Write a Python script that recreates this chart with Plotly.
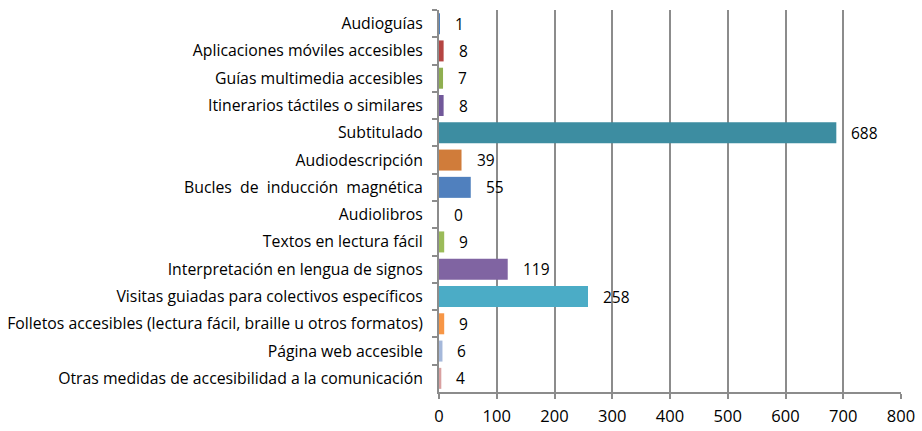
import plotly.graph_objects as go

categories = [
    "Audioguías",
    "Aplicaciones móviles accesibles",
    "Guías multimedia accesibles",
    "Itinerarios táctiles o similares",
    "Subtitulado",
    "Audiodescripción",
    "Bucles  de  inducción  magnética",
    "Audiolibros",
    "Textos en lectura fácil",
    "Interpretación en lengua de signos",
    "Visitas guiadas para colectivos específicos",
    "Folletos accesibles (lectura fácil, braille u otros formatos)",
    "Página web accesible",
    "Otras medidas de accesibilidad a la comunicación",
]
values = [1, 8, 7, 8, 688, 39, 55, 0, 9, 119, 258, 9, 6, 4]
colors = ["#4F81BD", "#B54542", "#8FAF50", "#71589A", "#3D8DA1", "#D07C3A",
          "#5080BE", "#4F81BD", "#9BBB59", "#8064A2", "#4BACC6", "#F79646",
          "#A5B8DA", "#D9A0A0"]
x_ticks = [0, 100, 200, 300, 400, 500, 600, 700, 800]

FONT = "Open Sans"

fig = go.Figure()
fig.add_trace(go.Bar(
    y=categories, x=values, orientation="h",
    marker=dict(color=colors, line=dict(width=0)),
    hoverinfo="x+y",
))

for c, v in zip(categories, values):
    fig.add_annotation(x=v, y=c, text=str(v), showarrow=False,
                       xanchor="left", xshift=13,
                       font=dict(family=FONT, size=15.5, color="#000000"))

fig.update_layout(
    width=922, height=431,
    margin=dict(l=439, r=21, t=10, b=39),
    paper_bgcolor="white", plot_bgcolor="white",
    bargap=0.23, showlegend=False,
    font=dict(family=FONT, color="#000000"),
)
fig.update_xaxes(
    range=[0, 800], tickvals=x_ticks, ticktext=[str(t) for t in x_ticks],
    showgrid=True, gridcolor="#8C8C8C", gridwidth=2,
    showline=True, linecolor="#8C8C8C", linewidth=2,
    ticks="outside", ticklen=5, tickcolor="#8C8C8C", tickwidth=2,
    tickfont=dict(family=FONT, size=16.5), zeroline=False,
    ticklabelstandoff=3, automargin=False,
)
fig.update_yaxes(
    autorange="reversed", type="category",
    showline=True, linecolor="#8C8C8C", linewidth=2,
    ticks="outside", ticklen=5, tickcolor="#8C8C8C", tickwidth=2,
    tickson="boundaries", showgrid=False,
    tickfont=dict(family=FONT, size=15.8), ticklabelstandoff=11,
    automargin=False,
)

fig.write_html("out.html", config={"displayModeBar": False},
               post_script="document.body.style.margin='0';")
